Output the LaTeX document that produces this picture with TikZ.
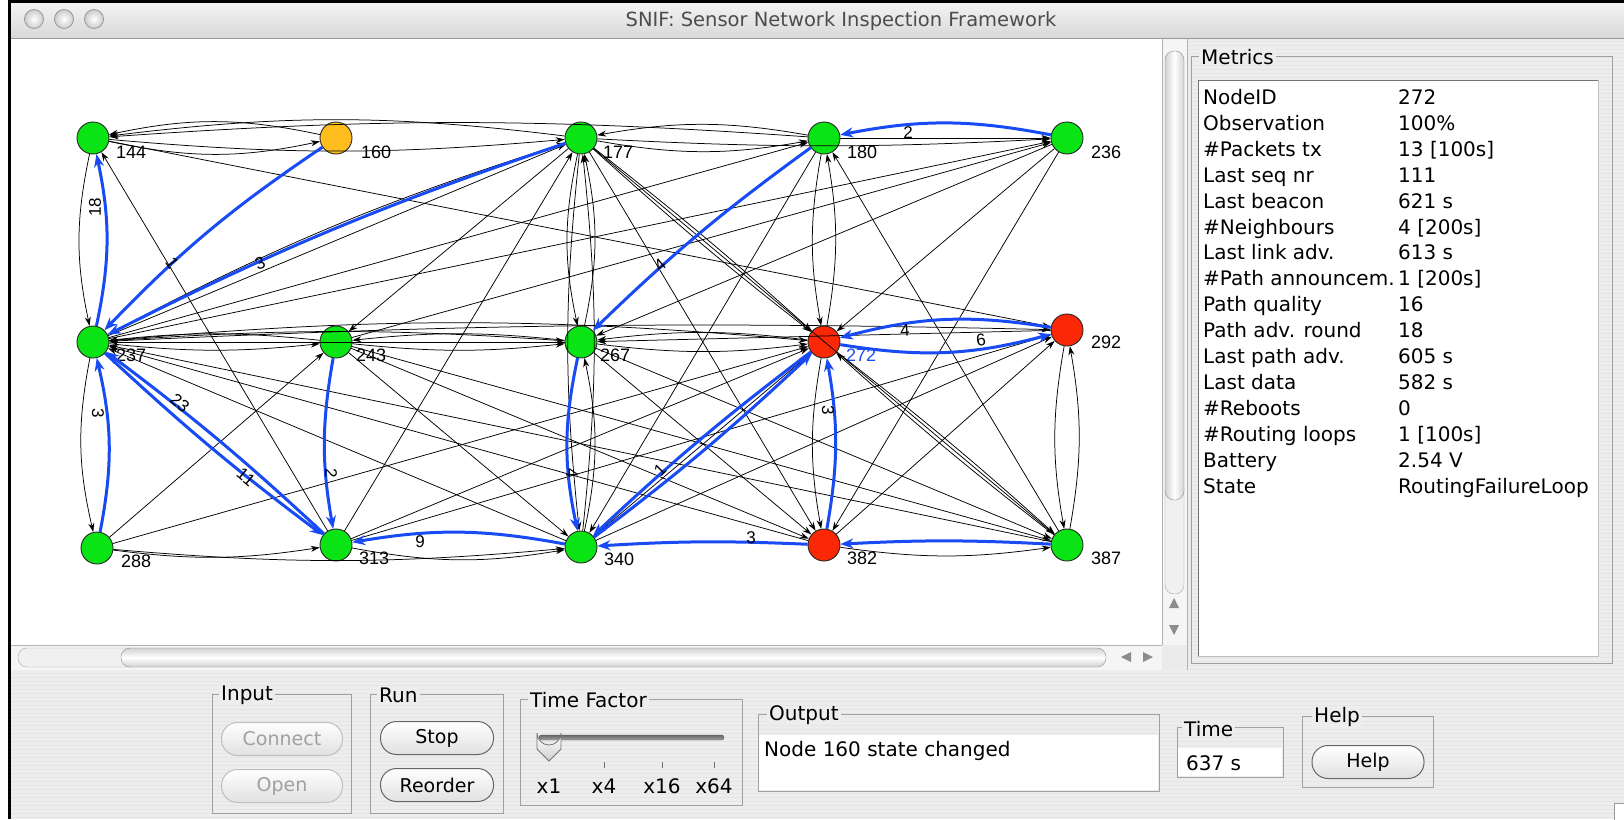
\documentclass[tikz,border=0pt]{standalone}
\usepackage{fontspec}
\setmainfont{DejaVu Sans}
\newfontfamily\gfont{Liberation Sans}
\usetikzlibrary{arrows.meta}
\definecolor{ngreen}{RGB}{10,228,20}
\definecolor{nred}{RGB}{250,40,5}
\definecolor{norange}{RGB}{255,190,30}
\definecolor{lblue}{RGB}{25,75,245}
\definecolor{panelbg}{RGB}{237,237,237}
\definecolor{stripe}{RGB}{229,229,229}
\definecolor{framegray}{RGB}{160,160,160}
\definecolor{distxt}{RGB}{160,160,160}
\newcommand{\snifui}{\fontsize{20}{24}\selectfont}
\newcommand{\snifbtn}{\fontsize{19}{22}\selectfont}
\begin{document}
\begin{tikzpicture}[x=1pt,y=-1pt,
  gnode/.style={circle, draw=black!85, line width=0.9pt, minimum size=32pt, inner sep=0pt},
  nlab/.style={anchor=west, font=\gfont\fontsize{18}{20}\selectfont, inner sep=0pt},
  elab/.style={font=\gfont\fontsize{17}{19}\selectfont, inner sep=0pt},
  e/.style={draw=black, line width=0.75pt, -{Stealth[length=9pt,width=6pt]}},
  be/.style={draw=lblue, line width=3pt, -{Stealth[length=13pt,width=10pt]}},
  framebox/.style={draw=framegray, line width=0.9pt},
  ftitle/.style={anchor=west, fill=panelbg, inner xsep=2pt, inner ysep=0pt, font=\snifui},
  btn/.style={draw=black!60, line width=1pt, rounded corners=16pt, top color=white, bottom color=black!12, font=\snifbtn, minimum height=33pt},
  dbtn/.style={btn, draw=black!25, text=distxt},
  mrow/.style={anchor=base west, font=\snifui, inner sep=0pt},
  tlight/.style={circle, draw=black!40, line width=0.8pt, minimum size=19pt, inner sep=0pt, inner color=white, outer color=black!20}
]
\useasboundingbox (0,0) rectangle (1624,819);
% ---------- window ----------
\fill[white] (0,0) rectangle (1624,819);
\fill[panelbg] (11,38) rectangle (1624,819);
\foreach \yy in {41,45,...,817} \draw[stripe, line width=1pt] (11,\yy) -- (1624,\yy);
\shade[top color=black!5, bottom color=black!15] (11,3) rectangle (1624,38);
\draw[black!40, line width=1pt] (11,38) -- (1624,38);
\fill[black] (8,0) rectangle (1624,3);
\fill[black] (8,0) rectangle (11,819);
\node[tlight] (tl1) at (34,19) {};
\node[tlight] (tl2) at (64,19) {};
\node[tlight] (tl3) at (94,19) {};
\node[font=\fontsize{19.5}{22}\selectfont, text=black!70] (title) at (841,21) {SNIF: Sensor Network Inspection Framework};
% canvas
\fill[white] (11,39) rectangle (1162,645);
% vertical scrollbar
\fill[black!4] (1162,39) rectangle (1187,645);
\draw[black!30] (1162,39) -- (1162,670);
\draw[black!35, rounded corners=9pt, fill=black!6] (1165,480) rectangle (1184,594);
\draw[black!45, rounded corners=9pt, left color=black!18, right color=black!18, middle color=white] (1165,51) rectangle (1184,500);
\fill[black!45] (1169,608) -- (1179,608) -- (1174,598) -- cycle;
\fill[black!45] (1169,625) -- (1179,625) -- (1174,635) -- cycle;
% horizontal scrollbar
\fill[black!4] (11,645) rectangle (1162,670);
\draw[black!30] (11,645) -- (1187,645);
\draw[black!35, rounded corners=9pt, fill=black!6] (18,648) rectangle (140,667);
\draw[black!45, rounded corners=9pt, top color=black!18, bottom color=black!18, middle color=white] (121,648) rectangle (1106,667);
\fill[black!45] (1131,652) -- (1131,662) -- (1121,657) -- cycle;
\fill[black!45] (1143,652) -- (1143,662) -- (1153,657) -- cycle;
\fill[black!8] (1162,645) rectangle (1187,670);
\draw[black!30] (1187,39) -- (1187,670);
% ---------- metrics ----------
\draw[framebox] (1191,56) rectangle (1612,663);
\fill[white] (1198,80) rectangle (1598,656);
\draw[black!55, line width=1pt] (1198,656) -- (1198,80) -- (1598,80);
\draw[black!25, line width=1pt] (1598,80) -- (1598,656) -- (1198,656);
\node[ftitle] (tmetrics) at (1199,57) {Metrics};
\node[mrow] (m1a) at (1203,104) {NodeID};          \node[mrow] (m1b) at (1398,104) {272};
\node[mrow] (m2a) at (1203,130) {Observation};     \node[mrow] (m2b) at (1398,130) {100\%};
\node[mrow] (m3a) at (1203,156) {\#Packets tx};    \node[mrow] (m3b) at (1398,156) {13 [100s]};
\node[mrow] (m4a) at (1203,182) {Last seq nr};     \node[mrow] (m4b) at (1398,182) {111};
\node[mrow] (m5a) at (1203,208) {Last beacon};     \node[mrow] (m5b) at (1398,208) {621 s};
\node[mrow] (m6a) at (1203,234) {\#Neighbours};    \node[mrow] (m6b) at (1398,234) {4 [200s]};
\node[mrow] (m7a) at (1203,259) {Last link adv.};  \node[mrow] (m7b) at (1398,259) {613 s};
\node[mrow] (m8a) at (1203,285) {\#Path announcem.}; \node[mrow] (m8b) at (1398,285) {1 [200s]};
\node[mrow] (m9a) at (1203,311) {Path quality};    \node[mrow] (m9b) at (1398,311) {16};
\node[mrow] (m10a) at (1203,337) {Path adv. round}; \node[mrow] (m10b) at (1398,337) {18};
\node[mrow] (m11a) at (1203,363) {Last path adv.}; \node[mrow] (m11b) at (1398,363) {605 s};
\node[mrow] (m12a) at (1203,389) {Last data};      \node[mrow] (m12b) at (1398,389) {582 s};
\node[mrow] (m13a) at (1203,415) {\#Reboots};      \node[mrow] (m13b) at (1398,415) {0};
\node[mrow] (m14a) at (1203,441) {\#Routing loops}; \node[mrow] (m14b) at (1398,441) {1 [100s]};
\node[mrow] (m15a) at (1203,467) {Battery};        \node[mrow] (m15b) at (1398,467) {2.54 V};
\node[mrow] (m16a) at (1203,493) {State};          \node[mrow] (m16b) at (1398,493) {RoutingFailureLoop};
% ---------- bottom panel ----------
\draw[framebox] (212,694) rectangle (351,813);
\node[ftitle] (tinput) at (219,695) {Input};
\node[dbtn, minimum width=121pt] (bconnect) at (282,739) {Connect};
\node[dbtn, minimum width=121pt] (bopen) at (282,786) {Open};
\draw[framebox] (370,694) rectangle (503,813);
\node[ftitle] (trun) at (377,695) {Run};
\node[btn, minimum width=113pt] (bstop) at (437,738) {Stop};
\node[btn, minimum width=113pt] (breorder) at (437,785) {Reorder};
\draw[framebox] (520,699) rectangle (742,805);
\node[ftitle] (ttf) at (528,700) {Time Factor};
\draw[black!65, rounded corners=2.5pt, top color=black!60, bottom color=black!35] (539,735) rectangle (724,740);
\draw[black!55, line width=0.8pt, top color=white, bottom color=black!18] (537,738) -- (537,733) arc (180:0:12) -- (561,749) -- (549,761) -- (537,749) -- cycle;
\foreach \tx in {604,662,714} \draw[black!55, line width=0.8pt] (\tx,762) -- (\tx,768);
\node[font=\snifui] (x1) at (549,786) {x1};
\node[font=\snifui] (x4) at (604,786) {x4};
\node[font=\snifui] (x16) at (662,786) {x16};
\node[font=\snifui] (x64) at (714,786) {x64};
\draw[framebox] (758,714) rectangle (1159,791);
\fill[white] (759,735) rectangle (1158,790);
\node[ftitle] (tout) at (767,715) {Output};
\node[anchor=west, font=\snifui, inner sep=0pt] (outtxt) at (764,751) {Node 160 state changed};
\draw[framebox] (1177,727) rectangle (1283,777);
\fill[white] (1178,748) rectangle (1282,776);
\node[ftitle] (ttime) at (1182,729) {Time};
\node[anchor=west, font=\snifui, inner sep=0pt] (timetxt) at (1186,763) {637 s};
\draw[framebox] (1302,716) rectangle (1433,787);
\node[ftitle] (thelp) at (1312,717) {Help};
\node[btn, minimum width=112pt] (bhelp) at (1368,762) {Help};
\draw[black!40, fill=white] (1614,803) rectangle (1625,820);
% ---------- graph nodes ----------
\node[gnode, fill=ngreen] (n144) at (93,138) {};
\node[gnode, fill=norange] (n160) at (336,138) {};
\node[gnode, fill=ngreen] (n177) at (581,138) {};
\node[gnode, fill=ngreen] (n180) at (824,138) {};
\node[gnode, fill=ngreen] (n236) at (1067,138) {};
\node[gnode, fill=ngreen] (n237) at (93,342) {};
\node[gnode, fill=ngreen] (n243) at (336,342) {};
\node[gnode, fill=ngreen] (n267) at (581,342) {};
\node[gnode, fill=nred] (n272) at (824,342) {};
\node[gnode, fill=nred] (n292) at (1067,330) {};
\node[gnode, fill=ngreen] (n288) at (97,548) {};
\node[gnode, fill=ngreen] (n313) at (336,545) {};
\node[gnode, fill=ngreen] (n340) at (581,547) {};
\node[gnode, fill=nred] (n382) at (824,545) {};
\node[gnode, fill=ngreen] (n387) at (1067,545) {};
\node[nlab] (l144) at (116,152) {144};
\node[nlab] (l160) at (361,152) {160};
\node[nlab] (l177) at (603,152) {177};
\node[nlab] (l180) at (847,152) {180};
\node[nlab] (l236) at (1091,152) {236};
\node[nlab] (l237) at (116,355) {237};
\node[nlab] (l243) at (356,355) {243};
\node[nlab] (l267) at (600,355) {267};
\node[nlab, text=lblue] (l272) at (846,355) {272};
\node[nlab] (l292) at (1091,342) {292};
\node[nlab] (l288) at (121,561) {288};
\node[nlab] (l313) at (359,558) {313};
\node[nlab] (l340) at (604,559) {340};
\node[nlab] (l382) at (847,558) {382};
\node[nlab] (l387) at (1091,558) {387};
% ---------- black edges ----------
\draw[e] (n160) to[bend right=12] (n144);
\draw[e] (n144) to[bend right=12] (n160);
\draw[e] (n177) to[bend right=7] (n144);
\draw[e] (n180) to[bend right=4] (n144);
\draw[e] (n144) to[bend right=5] (n177);
\draw[e] (n177) to[bend right=10] (n180);
\draw[e] (n180) to[bend right=10] (n177);
\draw[e] (n180) -- (n236);
\draw[e] (n177) to[bend right=3] (n236);
\draw[e] (n144) to[bend right=12] (n237);
\draw[e] (n237) to[bend right=12] (n288);
\draw[e] (n313) -- (n144);
\draw[e] (n144) -- (n292);
\draw[e] (n237) -- (n177);
\draw[e] (n237) to[bend left=5] (n177);
\draw[e] (n237) -- (n236);
\draw[e] (n237) -- (n180);
\draw[e] (n177) -- (n243);
\draw[e] (n243) -- (n236);
\draw[e] (n313) -- (n177);
\draw[e] (n177) to[bend right=12] (n267);
\draw[e] (n267) to[bend right=12] (n177);
\draw[e] (n177) to[bend right=6] (n340);
\draw[e] (n340) to[bend right=6] (n177);
\draw[e] (n177) to[bend left=2] (n272);
\draw[e] (n177) to[bend right=2] (n272);
\draw[e] (n177) -- (n382);
\draw[e] (n177) -- (n387);
\draw[e] (n180) to[bend right=10] (n272);
\draw[e] (n272) to[bend right=10] (n180);
\draw[e] (n180) -- (n340);
\draw[e] (n387) -- (n180);
\draw[e] (n236) -- (n267);
\draw[e] (n236) -- (n272);
\draw[e] (n236) -- (n382);
\draw[e] (n237) to[bend right=6] (n243);
\draw[e] (n243) to[bend right=6] (n237);
\draw[e] (n243) to[bend right=6] (n267);
\draw[e] (n267) to[bend right=6] (n243);
\draw[e] (n237) to[bend left=4] (n267);
\draw[e] (n267) -- (n237);
\draw[e] (n237) to[bend left=5] (n272);
\draw[e] (n237) to[bend left=2] (n292);
\draw[e] (n267) to[bend right=7] (n272);
\draw[e] (n272) to[bend right=7] (n267);
\draw[e] (n292) -- (n267);
\draw[e] (n340) -- (n237);
\draw[e] (n382) -- (n237);
\draw[e] (n387) -- (n237);
\draw[e] (n243) -- (n387);
\draw[e] (n243) -- (n382);
\draw[e] (n243) -- (n340);
\draw[e] (n288) -- (n243);
\draw[e] (n288) -- (n272);
\draw[e] (n288) to[bend right=8] (n313);
\draw[e] (n288) to[bend right=5] (n340);
\draw[e] (n313) to[bend right=10] (n340);
\draw[e] (n313) -- (n272);
\draw[e] (n313) -- (n292);
\draw[e] (n340) to[bend right=12] (n267);
\draw[e] (n340) -- (n292);
\draw[e] (n340) -- (n272);
\draw[e] (n267) -- (n382);
\draw[e] (n267) -- (n387);
\draw[e] (n272) to[bend right=10] (n382);
\draw[e] (n272) to[bend left=2] (n387);
\draw[e] (n387) to[bend left=2] (n272);
\draw[e] (n292) to[bend right=10] (n387);
\draw[e] (n387) to[bend right=10] (n292);
\draw[e] (n382) -- (n292);
\draw[e] (n382) to[bend right=8] (n387);
% ---------- blue edges ----------
\draw[be] (n160) to[bend right=6] (n237);
\draw[be] (n177) to[bend right=4] (n237);
\draw[be] (n237) to[bend right=12] (n144);
\draw[be] (n180) to[bend right=4] (n267);
\draw[be] (n236) to[bend right=11] (n180);
\draw[be] (n292) to[bend right=12] (n272);
\draw[be] (n272) to[bend right=12] (n292);
\draw[be] (n288) to[bend right=12] (n237);
\draw[be] (n237) to[bend right=3] (n313);
\draw[be] (n313) to[bend right=3] (n237);
\draw[be] (n243) to[bend right=10] (n313);
\draw[be] (n340) to[bend right=10] (n313);
\draw[be] (n267) to[bend right=12] (n340);
\draw[be] (n340) to[bend right=3] (n272);
\draw[be] (n272) to[bend right=3] (n340);
\draw[be] (n382) to[bend right=10] (n272);
\draw[be] (n382) to[bend right=3] (n340);
\draw[be] (n387) to[bend right=3] (n382);
% ---------- edge labels ----------
\node[elab, rotate=90] (e18) at (95,207) {18};
\node[elab, rotate=-55] (e1a) at (172,263) {1};
\node[elab, rotate=22] (e3a) at (260,263) {3};
\node[elab, rotate=40] (e4a) at (660,265) {4};
\node[elab] (e2a) at (908,133) {2};
\node[elab, rotate=4] (e4b) at (905,330) {4};
\node[elab, rotate=8] (e6) at (981,340) {6};
\node[elab, rotate=-90] (e3b) at (98,413) {3};
\node[elab, rotate=-40] (e23) at (180,403) {23};
\node[elab, rotate=-40] (e11) at (246,477) {11};
\node[elab, rotate=-90] (e2b) at (331,473) {2};
\node[elab] (e9) at (420,542) {9};
\node[elab, rotate=-90] (e4c) at (572,473) {4};
\node[elab, rotate=45] (e1b) at (660,470) {1};
\node[elab, rotate=-90] (e3c) at (828,410) {3};
\node[elab] (e3d) at (751,538) {3};
\end{tikzpicture}
\end{document}
